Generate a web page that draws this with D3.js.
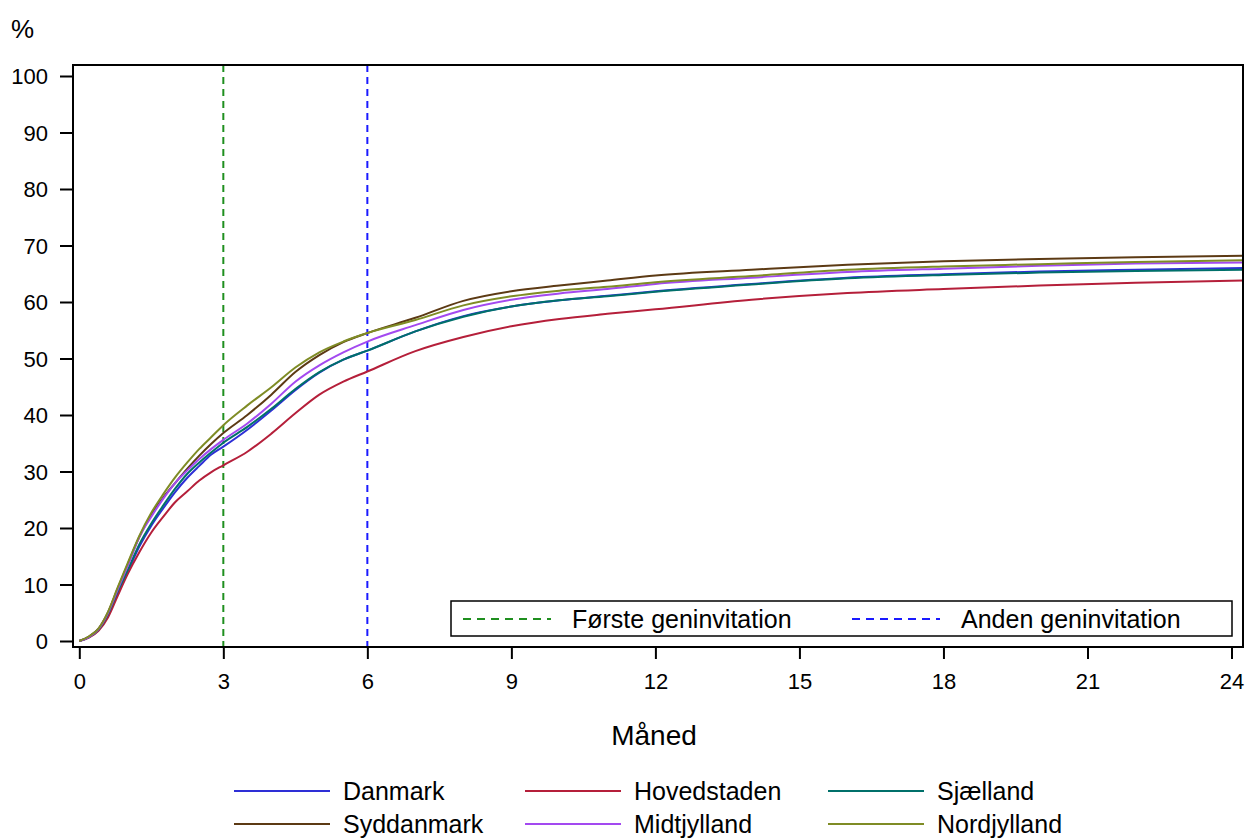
<!DOCTYPE html>
<html>
<head>
<meta charset="utf-8">
<script src="https://cdn.jsdelivr.net/npm/d3@7"></script>
<style>
  body { margin: 0; background: #fff; }
  svg text { font-family: "Liberation Sans", Arial, sans-serif; fill: #000; }
</style>
</head>
<body>
<svg id="chart" width="1246" height="838"></svg>
<script>
var months = [0, 0.2, 0.4, 0.6, 0.8, 1, 1.25, 1.5, 1.75, 2, 2.25, 2.5, 2.75, 3, 3.5, 4, 4.5, 5, 5.5, 6,
  7, 8, 9, 10, 11, 12, 14, 16, 18, 20, 22, 24.24];

// Cumulative share (%) per region
var danmark     = [0, 0.7, 2.0, 4.7, 8.5, 12.1, 16.7, 20.4, 23.5, 26.4, 28.9, 31.0, 33.0, 34.4, 37.4, 40.8, 44.4, 47.5, 49.8, 51.4,
  54.8, 57.5, 59.2, 60.3, 61.1, 61.9, 63.2, 64.3, 64.9, 65.4, 65.7, 66.0];
var hovedstaden = [0, 0.6, 1.8, 4.2, 8.0, 11.7, 15.7, 19.2, 22.0, 24.6, 26.5, 28.4, 29.9, 31.1, 33.5, 36.7, 40.3, 43.6, 45.9, 47.7,
  51.3, 53.8, 55.7, 57.0, 57.9, 58.7, 60.4, 61.6, 62.3, 62.9, 63.4, 63.8];
var sjaelland   = [0, 0.7, 2.0, 4.8, 8.8, 12.4, 17.1, 20.8, 24.0, 27.0, 29.6, 31.6, 33.4, 35.1, 37.9, 41.1, 44.6, 47.6, 49.8, 51.4,
  54.8, 57.4, 59.2, 60.3, 61.0, 61.8, 63.1, 64.2, 64.8, 65.2, 65.5, 65.7];
var syddanmark  = [0, 0.8, 2.2, 5.1, 9.3, 13.4, 18.4, 22.4, 25.4, 28.0, 30.5, 32.8, 34.9, 36.8, 40.0, 43.6, 47.6, 50.6, 52.9, 54.5,
  57.2, 60.2, 61.9, 62.9, 63.8, 64.7, 65.7, 66.6, 67.2, 67.6, 67.9, 68.2];
var midtjylland = [0, 0.7, 2.1, 5.0, 9.1, 13.1, 18.4, 22.0, 25.2, 28.0, 30.2, 32.2, 34.0, 35.6, 38.5, 42.0, 45.9, 48.8, 51.1, 53.0,
  55.9, 58.6, 60.4, 61.5, 62.3, 63.2, 64.3, 65.3, 65.9, 66.4, 66.8, 67.0];
var nordjylland = [0, 0.8, 2.2, 5.2, 9.5, 13.6, 18.6, 22.7, 26.0, 29.0, 31.6, 34.0, 36.1, 38.2, 41.7, 44.9, 48.4, 51.1, 53.0, 54.5,
  56.8, 59.4, 61.0, 62.0, 62.7, 63.5, 64.6, 65.7, 66.3, 66.7, 67.1, 67.4];

var regionNames = ["Danmark", "Hovedstaden", "Sjælland", "Syddanmark", "Midtjylland", "Nordjylland"];
var regionValues = [danmark, hovedstaden, sjaelland, syddanmark, midtjylland, nordjylland];
var regionColors = ["#2e2fd6", "#b51f3a", "#00706a", "#5c3a14", "#a349f0", "#7f8c25"];

var xTicks = [0, 3, 6, 9, 12, 15, 18, 21, 24];
var yTicks = [0, 10, 20, 30, 40, 50, 60, 70, 80, 90, 100];
var refMonths = [3, 6];
var refNames = ["Første geninvitation", "Anden geninvitation"];
var refColors = ["#1f8f1f", "#1a1aff"];

var svg = d3.select("#chart");

var x = d3.scaleLinear().domain([0, 24]).range([79.3, 1231.5]);
var y = d3.scaleLinear().domain([0, 100]).range([641, 76]);

// plot frame
var frame = {left: 73, top: 65, right: 1243, bottom: 647};

svg.append("defs").append("clipPath").attr("id", "plotClip")
  .append("rect")
  .attr("x", frame.left).attr("y", frame.top)
  .attr("width", frame.right - frame.left).attr("height", frame.bottom - frame.top);

// y axis
var yAxis = d3.axisLeft(y).tickValues(yTicks).tickSize(13).tickPadding(12);
var gy = svg.append("g").attr("transform", "translate(" + frame.left + ",0)").call(yAxis);
gy.select(".domain").remove();
gy.selectAll("line").attr("stroke", "#000").attr("stroke-width", 2);
gy.selectAll("text").style("font-size", "22px").attr("dy", "0.36em")
  .attr("font-family", "Liberation Sans, Arial, sans-serif");

// x axis
var xAxis = d3.axisBottom(x).tickValues(xTicks).tickSize(12).tickPadding(14);
var gx = svg.append("g").attr("transform", "translate(0," + frame.bottom + ")").call(xAxis);
gx.select(".domain").remove();
gx.selectAll("line").attr("stroke", "#000").attr("stroke-width", 2);
gx.selectAll("text").style("font-size", "22px")
  .attr("font-family", "Liberation Sans, Arial, sans-serif");

// reference lines
var plot = svg.append("g").attr("clip-path", "url(#plotClip)");
plot.selectAll("line.ref").data(refMonths).enter().append("line")
  .attr("class", "ref")
  .attr("x1", function(d){ return x(d); }).attr("x2", function(d){ return x(d); })
  .attr("y1", frame.top).attr("y2", frame.bottom)
  .attr("stroke", function(d, i){ return refColors[i]; })
  .attr("stroke-width", 2)
  .attr("stroke-dasharray", "7,5");

// curves
var line = d3.line()
  .x(function(d, i){ return x(months[i]); })
  .y(function(d){ return y(d); })
  .curve(d3.curveMonotoneX);

plot.selectAll("path.region").data(regionValues).enter().append("path")
  .attr("class", "region")
  .attr("d", line)
  .attr("fill", "none")
  .attr("stroke", function(d, i){ return regionColors[i]; })
  .attr("stroke-width", 2);

// frame on top
svg.append("rect")
  .attr("x", frame.left).attr("y", frame.top)
  .attr("width", frame.right - frame.left).attr("height", frame.bottom - frame.top)
  .attr("fill", "none").attr("stroke", "#000").attr("stroke-width", 2);

// inset legend for the reference lines
var inset = svg.append("g");
inset.append("rect")
  .attr("x", 451).attr("y", 601).attr("width", 781).attr("height", 35)
  .attr("fill", "#fff").attr("stroke", "#000").attr("stroke-width", 1.5);
var insetX = [463, 852];
refNames.forEach(function(name, i){
  inset.append("line")
    .attr("x1", insetX[i]).attr("x2", insetX[i] + 88)
    .attr("y1", 619).attr("y2", 619)
    .attr("stroke", refColors[i]).attr("stroke-width", 2)
    .attr("stroke-dasharray", "8,6");
  inset.append("text")
    .attr("x", insetX[i] + 109).attr("y", 628)
    .style("font-size", "25px")
    .text(name);
});

// axis titles
svg.append("text").attr("x", 654).attr("y", 745)
  .attr("text-anchor", "middle").style("font-size", "28px").text("Måned");
svg.append("text").attr("x", 11).attr("y", 38)
  .style("font-size", "26px").text("%");

// region legend below
var legX = [234, 525, 828], legY = [791, 824];
var leg = svg.append("g");
regionNames.forEach(function(name, i){
  var cx = legX[i % 3], cy = legY[Math.floor(i / 3)];
  leg.append("line")
    .attr("x1", cx).attr("x2", cx + 96)
    .attr("y1", cy).attr("y2", cy)
    .attr("stroke", regionColors[i]).attr("stroke-width", 2);
  leg.append("text")
    .attr("x", cx + 109).attr("y", cy + 9)
    .style("font-size", "25px")
    .text(name);
});
</script>
</body>
</html>
